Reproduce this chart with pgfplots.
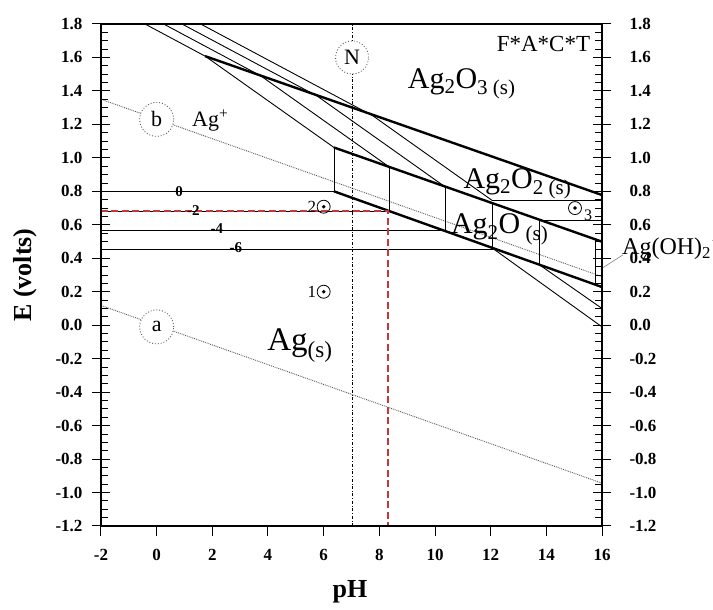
\documentclass[border=0pt]{standalone}
\usepackage{pgfplots}
\pgfplotsset{compat=1.18}
\usepackage{fontspec}
\setmainfont{Liberation Serif}
\definecolor{reddash}{RGB}{200,55,55}
\definecolor{dotgray}{RGB}{90,90,90}
\begin{document}
\begin{tikzpicture}
\tikzset{
  thinl/.style={black, line width=0.9pt},
  thickl/.style={black, line width=2.4pt},
  circ/.style={circle, draw=dotgray, dotted, line width=0.9pt, fill=white, minimum size=34pt, inner sep=0pt, font=\fontsize{22}{22}\selectfont},
}
\pgfplotsset{
  base/.style={
    width=501pt, height=502pt, scale only axis,
    xmin=-2, xmax=16, ymin=-1.2, ymax=1.8,
    ytick={-1.2,-1.0,-0.8,-0.6,-0.4,-0.2,0,0.2,0.4,0.6,0.8,1.0,1.2,1.4,1.6,1.8},
    tick align=center,
    major tick length=18pt,
    /pgf/number format/assume math mode=true,
    yticklabel style={/pgf/number format/fixed, /pgf/number format/fixed zerofill, /pgf/number format/precision=1},
    tick label style={font=\fontsize{17}{17}\selectfont\bfseries},
    every tick/.style={black, line width=1pt},
    axis line style={-, line width=1.1pt},
  },
}
\begin{axis}[base, name=main, clip=false,
  xtick=\empty, ytick pos=left, yticklabel pos=left,
  yticklabel style={xshift=-6pt},
  xlabel={pH}, ylabel={E (volts)},
  every axis x label/.style={at={(axis description cs:0.497,-0.131)}, anchor=center, font=\fontsize{26}{26}\selectfont\bfseries},
  every axis y label/.style={at={(axis description cs:-0.152,0.5)}, anchor=center, rotate=90, font=\fontsize{26}{26}\selectfont\bfseries},
]
% water lines a and b
\addplot[dotgray, densely dotted, line width=0.9pt] coordinates {(-2,0.118) (16,-0.944)};
\addplot[dotgray, densely dotted, line width=0.9pt] coordinates {(-2,1.35) (16,0.29)};
% neutral line
\addplot[black, dash dot, line width=0.8pt] coordinates {(7.02,-1.2) (7.02,1.8)};
% Ag+/Ag horizontals
\addplot[thinl] coordinates {(-2,0.80) (6.37,0.80)};
\addplot[thinl] coordinates {(-2,0.682) (8.37,0.682)};
\addplot[thinl] coordinates {(-2,0.564) (10.37,0.564)};
\addplot[thinl] coordinates {(-2,0.455) (12.1,0.455)};
% Ag+/oxide lines
\addplot[thinl] coordinates {(-0.42,1.8) (1.74,1.608) (6.37,1.062)};
\addplot[thinl] coordinates {(0.25,1.8) (3.74,1.49) (8.37,0.944)};
\addplot[thinl] coordinates {(0.91,1.8) (5.77,1.369) (10.37,0.826)};
\addplot[thinl] coordinates {(1.58,1.8) (7.77,1.251) (12.05,0.746)};
% verticals in Ag2O field
\addplot[thinl] coordinates {(6.37,0.80) (6.37,1.062)};
\addplot[thinl] coordinates {(8.37,0.681) (8.37,0.945)};
\addplot[thinl] coordinates {(10.37,0.563) (10.37,0.828)};
\addplot[thinl] coordinates {(12.05,0.462) (12.05,0.730)};
\addplot[thinl] coordinates {(13.74,0.362) (13.74,0.631)};
\addplot[thinl] coordinates {(15.75,0.243) (15.75,0.513)};
% right horizontals
\addplot[thinl] coordinates {(12.05,0.744) (16,0.744)};
\addplot[thinl] coordinates {(13.74,0.624) (16,0.624)};
% Ag(OH)2-/Ag lines
\addplot[thinl] coordinates {(12.05,0.462) (16,-0.01)};
\addplot[thinl] coordinates {(13.74,0.362) (16,0.10)};
% thick boundaries
\addplot[thickl] coordinates {(1.74,1.608) (16,0.778)};
\addplot[thickl] coordinates {(6.37,1.062) (16,0.499)};
\addplot[thickl] coordinates {(6.37,0.80) (16,0.228)};
% red dashed guide
\addplot[reddash, line width=1.8pt, dash pattern=on 7pt off 3.5pt] coordinates {(-2,0.684) (8.31,0.684) (8.31,-1.2)};
% leader line
\addplot[gray, line width=0.6pt] coordinates {(15.95,0.335) (16.75,0.42)};
% points
\addplot[only marks, mark=o, mark size=6.5pt, mark options={line width=0.8pt, fill=white}] coordinates {(6,0.2) (6,0.708) (15.03,0.70)};
\addplot[only marks, mark=*, mark size=1.6pt] coordinates {(6,0.2) (6,0.708) (15.03,0.70)};
% circled letters
\node[circ] at (axis cs:0,1.23) {b};
\node[circ] at (axis cs:0,-0.01) {a};
\node[circ, minimum size=33pt] at (axis cs:7.02,1.6) {N};
% labels
\node[anchor=base west, font=\fontsize{22}{22}\selectfont] at (axis cs:1.15,1.19) {Ag\textsuperscript{+}};
\node[anchor=base east, font=\fontsize{23}{23}\selectfont] at (axis cs:15.7,1.634) {F*A*C*T};
\node[anchor=base west, font=\fontsize{30}{30}\selectfont] at (axis cs:8.9,1.417) {Ag\textsubscript{2}O\textsubscript{3 (s)}};
\node[anchor=base west, font=\fontsize{30}{30}\selectfont] at (axis cs:10.9,0.818) {Ag\textsubscript{2}O\textsubscript{2 (s)}};
\node[anchor=base west, font=\fontsize{30}{30}\selectfont] at (axis cs:10.45,0.545) {Ag\textsubscript{2}O\textsubscript{ (s)}};
\node[anchor=base west, font=\fontsize{33}{33}\selectfont] at (axis cs:3.85,-0.149) {Ag\textsubscript{(s)}};
\node[anchor=base west, font=\fontsize{24}{24}\selectfont] at (axis cs:16.6,0.42) {Ag(OH)\textsubscript{2}\textsuperscript{$-$}};
\node[font=\fontsize{15}{15}\selectfont\bfseries] at (axis cs:0.81,0.80) {0};
\node[font=\fontsize{15}{15}\selectfont\bfseries] at (axis cs:1.32,0.684) {-2};
\node[font=\fontsize{15}{15}\selectfont\bfseries] at (axis cs:2.16,0.579) {-4};
\node[font=\fontsize{15}{15}\selectfont\bfseries] at (axis cs:2.85,0.465) {-6};
\node[anchor=east, inner sep=1pt, font=\fontsize{17}{17}\selectfont] at (axis cs:5.77,0.2) {1};
\node[anchor=east, inner sep=1pt, font=\fontsize{17}{17}\selectfont] at (axis cs:5.77,0.708) {2};
\node[font=\fontsize{16}{16}\selectfont] at (axis cs:15.5,0.655) {3};
\end{axis}
% x ticks and labels
\begin{axis}[base, axis y line=none, axis x line*=bottom, xtick={-2,0,2,4,6,8,10,12,14,16},
  tick align=outside, major tick length=10pt, ytick=\empty,
  xticklabel style={yshift=-10pt}]
\end{axis}
% right y axis
\begin{axis}[base, axis x line=none, axis y line*=right, xtick=\empty,
  ytick pos=right, yticklabel pos=right,
  yticklabel style={anchor=west, xshift=15pt}]
\end{axis}
% minor y ticks, inside, both sides
\begin{axis}[base, xtick=\empty, ytick pos=both, tick align=inside, major tick length=7pt,
  yticklabels={},
  ytick={-1.15,-1.1,-1.05,-0.95,-0.9,-0.85,-0.75,-0.7,-0.65,-0.55,-0.5,-0.45,-0.35,-0.3,-0.25,-0.15,-0.1,-0.05,0.05,0.1,0.15,0.25,0.3,0.35,0.45,0.5,0.55,0.65,0.7,0.75,0.85,0.9,0.95,1.05,1.1,1.15,1.25,1.3,1.35,1.45,1.5,1.55,1.65,1.7,1.75},
  every tick/.style={black, line width=0.9pt}]
\end{axis}
\pgfresetboundingbox
\path[use as bounding box] (main.south west) ++(-101pt,-84pt) rectangle ++(713pt,610pt);
\end{tikzpicture}
\end{document}
